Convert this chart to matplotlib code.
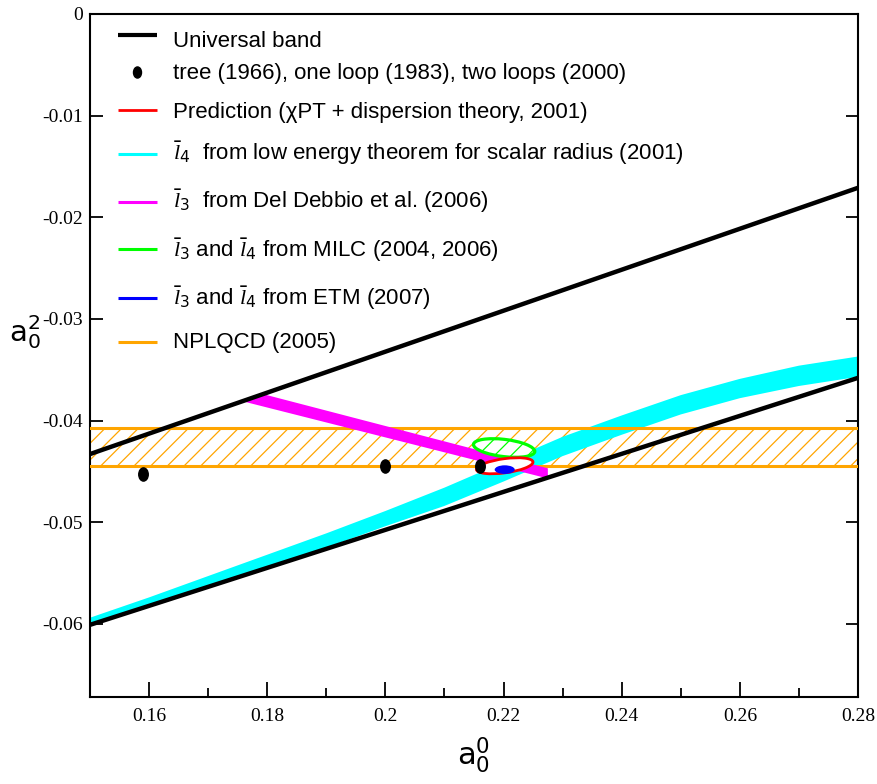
import matplotlib
matplotlib.use('Agg')
import matplotlib.pyplot as plt
from matplotlib.patches import Ellipse, Polygon
from matplotlib.lines import Line2D
from matplotlib.path import Path
import numpy as np

plt.rcParams['font.family'] = ['Liberation Sans Narrow', 'Liberation Sans', 'DejaVu Sans']
plt.rcParams['mathtext.fontset'] = 'custom'
plt.rcParams['mathtext.rm'] = 'Liberation Sans Narrow'
plt.rcParams['mathtext.it'] = 'Liberation Serif:italic'
plt.rcParams['mathtext.bf'] = 'Liberation Sans:bold'
plt.rcParams['hatch.linewidth'] = 0.9

# ---------------- data ----------------
ub_x = [0.15, 0.28]
ub_upper = [-0.0433, -0.0171]
ub_lower = [-0.0601, -0.0358]

pts_x = [0.159, 0.200, 0.2161]
pts_y = [-0.0453, -0.04445, -0.04445]

npl_lo, npl_hi = -0.04445, -0.0407

cyan_x = [0.150, 0.160, 0.170, 0.180, 0.190, 0.200, 0.210, 0.220, 0.230, 0.240, 0.250, 0.260, 0.270, 0.280]
cyan_top = [-0.0594, -0.0574, -0.0553, -0.0532, -0.0511, -0.0489, -0.0466, -0.0441, -0.0416, -0.0395, -0.0375, -0.0359, -0.0346, -0.0337]
cyan_bot = [-0.0601, -0.0582, -0.0563, -0.0544, -0.0525, -0.0504, -0.0484, -0.0460, -0.0435, -0.0414, -0.0394, -0.0378, -0.0366, -0.0357]

mag_x = [0.1758, 0.1793, 0.2275, 0.2275]
mag_y = [-0.0381, -0.0374, -0.0447, -0.0457]

# ellipses: (center x, center y, width, height, angle)
milc = (0.2201, -0.0427, 0.0104, 0.0017, -3.8)
pred = (0.2202, -0.04445, 0.0096, 0.0014, 4.4)
etm = (0.2202, -0.04483, 0.0034, 0.00085, 0.0)

xticks = [0.16, 0.18, 0.20, 0.22, 0.24, 0.26, 0.28]
xticklabels = ['0.16', '0.18', '0.2', '0.22', '0.24', '0.26', '0.28']
xminor = [0.17, 0.19, 0.21, 0.23, 0.25, 0.27]
yticks = [0, -0.01, -0.02, -0.03, -0.04, -0.05, -0.06]
yticklabels = ['0', '-0.01', '-0.02', '-0.03', '-0.04', '-0.05', '-0.06']

labels = [
    'Universal band',
    'tree (1966), one loop (1983), two loops (2000)',
    'Prediction (\u03c7PT + dispersion theory, 2001)',
    r'$\bar{l}_4$  from low energy theorem for scalar radius (2001)',
    r'$\bar{l}_3$  from Del Debbio et al. (2006)',
    r'$\bar{l}_3$ and $\bar{l}_4$ from MILC (2004, 2006)',
    r'$\bar{l}_3$ and $\bar{l}_4$ from ETM (2007)',
    'NPLQCD (2005)',
]

GREEN = '#00ff00'
ORANGE = '#ffa500'
CYAN = '#00ffff'
MAGENTA = '#ff00ff'

# ---------------- figure ----------------
W, H = 878, 784
fig = plt.figure(figsize=(W / 100, H / 100), dpi=100)
ax = fig.add_axes([90 / W, 1 - 697 / H, 768 / W, 683 / H])
ax.set_xlim(0.15, 0.28)
ax.set_ylim(-0.0672, 0.0)

# NPLQCD hatched band
ax.fill_between([0.15, 0.28], [npl_lo, npl_lo], [npl_hi, npl_hi], facecolor='none',
                edgecolor=ORANGE, hatch='//', linewidth=0, zorder=1)
# cyan band
ax.fill_between(cyan_x, cyan_bot, cyan_top, facecolor=CYAN, edgecolor='none', zorder=2)
# band borders
ax.axhline(npl_lo, color=ORANGE, lw=2.2, zorder=3)
ax.axhline(npl_hi, color=ORANGE, lw=2.2, zorder=3)
# magenta band
ax.add_patch(Polygon(np.column_stack([mag_x, mag_y]), closed=True, facecolor=MAGENTA,
                     edgecolor='none', zorder=4))
# universal band
ax.plot(ub_x, ub_upper, color='black', lw=3.2, zorder=5, solid_capstyle='butt')
ax.plot(ub_x, ub_lower, color='black', lw=3.2, zorder=5, solid_capstyle='butt')

# ellipses
cx, cy, w, h, ang = milc
ax.add_patch(Ellipse((cx, cy), w, h, angle=ang, facecolor='white', edgecolor=GREEN,
                     hatch='//', lw=2.3, zorder=6))
cx, cy, w, h, ang = pred
ax.add_patch(Ellipse((cx, cy), w, h, angle=ang, facecolor='white', edgecolor='red',
                     lw=2.0, zorder=7))
cx, cy, w, h, ang = etm
ax.add_patch(Ellipse((cx, cy), w, h, angle=ang, facecolor='blue', edgecolor='none',
                     zorder=8))

# points (slightly tall ellipse marker)
circ = Path.unit_circle()
ell_marker = Path(circ.vertices * np.array([0.72, 1.0]), circ.codes)
ax.plot(pts_x, pts_y, ls='none', marker=ell_marker, markersize=9.5, color='black', zorder=9)

# ticks
ax.set_xticks(xticks)
ax.set_xticklabels(xticklabels)
ax.set_xticks(xminor, minor=True)
ax.set_yticks(yticks)
ax.set_yticklabels(yticklabels)
ax.tick_params(axis='x', which='major', direction='in', length=11, width=1.3, pad=8,
               labelsize=14, top=False)
ax.tick_params(axis='x', which='minor', direction='in', length=6.5, width=1.3, top=False)
ax.tick_params(axis='y', which='major', direction='in', length=9, width=1.3, pad=5,
               labelsize=14, right=True)
for lab in ax.get_xticklabels() + ax.get_yticklabels():
    lab.set_family(['Liberation Serif', 'DejaVu Serif'])
for sp in ax.spines.values():
    sp.set_linewidth(1.5)

# axis labels
fig.text(9 / W, 1 - 332 / H, r'$\mathrm{a}_0^2$', fontsize=21, ha='left', va='center')
fig.text(474 / W, 1 - 755 / H, r'$\mathrm{a}_0^0$', fontsize=22, ha='center', va='center')

# legend (manual layout in figure pixels)
handle_styles = [
    dict(color='black', lw=3.0),
    dict(ls='none', marker=ell_marker, color='black', markersize=8),
    dict(color='red', lw=2.0),
    dict(color=CYAN, lw=2.2),
    dict(color=MAGENTA, lw=2.2),
    dict(color=GREEN, lw=2.2),
    dict(color='blue', lw=2.2),
    dict(color=ORANGE, lw=2.2),
]
row_handle_y = [35, 72, 110, 154, 202, 249, 298, 342]
row_base_y = [47, 79, 118, 160, 208, 257, 305, 348]
for st, hy, by, lab in zip(handle_styles, row_handle_y, row_base_y, labels):
    if st.get('ls') == 'none':
        fig.add_artist(Line2D([137 / W], [1 - hy / H], transform=fig.transFigure, **st))
    else:
        fig.add_artist(Line2D([118 / W, 157 / W], [1 - hy / H] * 2,
                              transform=fig.transFigure, solid_capstyle='butt', **st))
    fig.text(173 / W, 1 - by / H, lab, fontsize=16, ha='left', va='baseline')

fig.savefig('out.png', dpi=100)
